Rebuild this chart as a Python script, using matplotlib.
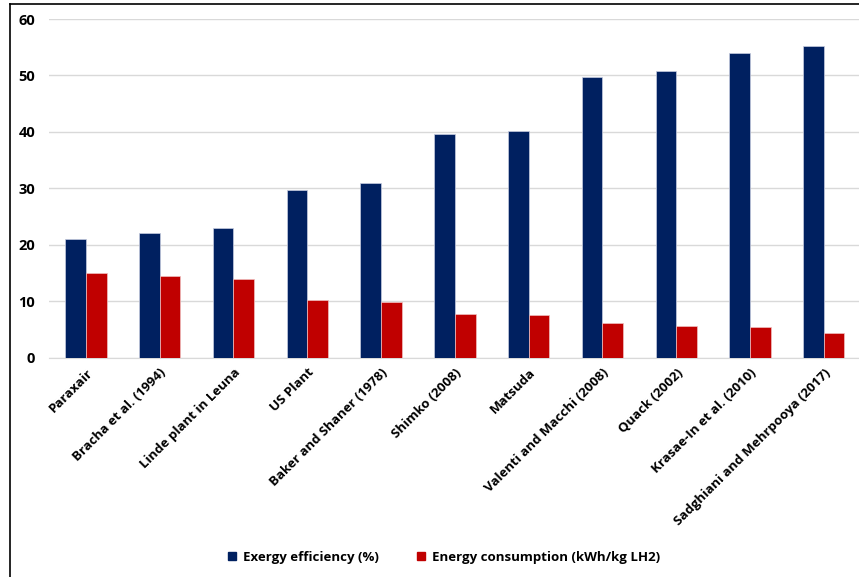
import numpy as np
import matplotlib
matplotlib.use('Agg')
import matplotlib.pyplot as plt
from matplotlib.lines import Line2D
from matplotlib.patches import Patch

plt.rcParams['font.family'] = ['Open Sans', 'DejaVu Sans']
plt.rcParams['font.weight'] = 'bold'

studies = ['Paraxair', 'Bracha et al. (1994)', 'Linde plant in Leuna', 'US Plant',
           'Baker and Shaner (1978)', 'Shimko (2008)', 'Matsuda', 'Valenti and Macchi (2008)',
           'Quack (2002)', 'Krasae-In et al. (2010)', 'Sadghiani and Mehrpooya (2017)']
exergy_eff = [21.1, 22.1, 22.9, 29.8, 30.9, 39.6, 40.2, 49.8, 50.8, 53.9, 55.3]
energy_cons = [15.0, 14.4, 13.9, 10.3, 9.9, 7.7, 7.6, 6.1, 5.7, 5.4, 4.4]

navy = '#002060'
red = '#C00000'

fig = plt.figure(figsize=(8.59, 5.77), dpi=100)
ax = fig.add_axes([0.057, 0.38, 0.945, 0.587])

x = np.arange(len(studies))
w = 0.28
ax.bar(x - w/2, exergy_eff, w, color=navy, edgecolor='#c8cde0', linewidth=0.5, zorder=3)
ax.bar(x + w/2, energy_cons, w, color=red, edgecolor='#f0c0c0', linewidth=0.5, zorder=3)

ax.set_xlim(-0.5, len(studies) - 0.5)
ax.set_ylim(0, 60)
ax.set_yticks(range(0, 61, 10))
ax.grid(axis='y', color='#d9d9d9', linewidth=1, zorder=0)
for s in ['top', 'right', 'left']:
    ax.spines[s].set_visible(False)
ax.spines['bottom'].set_color('#d9d9d9')
ax.tick_params(axis='both', length=0, labelsize=10.5)
ax.tick_params(axis='y', pad=10)
ax.tick_params(axis='x', pad=6)
ax.set_xticks(x)
ax.set_xticklabels(studies, rotation=45, ha='right', va='top',
                   rotation_mode='anchor', fontsize=9.5)

handles = [Patch(color=navy, label='Exergy efficiency (%)'),
           Patch(color=red, label='Energy consumption (kWh/kg LH2)')]
fig.legend(handles=handles, loc='center', bbox_to_anchor=(0.517, 1 - 557/577), ncol=2,
           frameon=False, fontsize=9.5, handlelength=0.6, handleheight=0.6,
           handletextpad=0.5, columnspacing=2.9)

# outer border of the pasted chart
fig.add_artist(Line2D([10/859, 10/859], [0, 1 - 4/577], color='black', linewidth=1.2))
fig.add_artist(Line2D([10/859, 1], [1 - 4/577, 1 - 4/577], color='black', linewidth=1.2))

fig.savefig('out.png', dpi=100)
